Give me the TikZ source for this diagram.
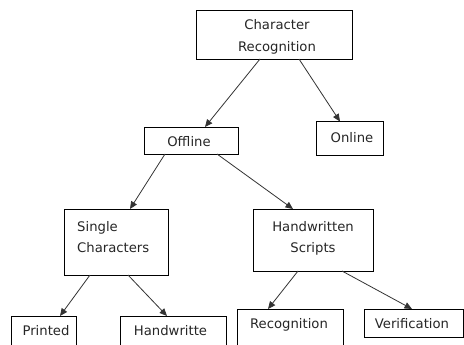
\documentclass[tikz,border=0pt]{standalone}
\usepackage{fontspec}
\setmainfont{DejaVu Sans}
\usetikzlibrary{arrows.meta,calc}

\tikzset{
  box/.style={draw=black, line width=0.8pt, anchor=north west,
              inner sep=0pt, outer sep=0pt},
  lbl/.style={anchor=base, inner sep=0pt, font=\fontsize{13.2}{15}\selectfont,
              text=black!85},
  arr/.style={draw=black!80, line width=0.8pt,
              -{Triangle[length=7.5pt,width=6.5pt]}},
}

\begin{document}
\begin{tikzpicture}[x=1pt,y=-1pt]
  \clip (0,0) rectangle (464,345);
  \fill[white] (0,0) rectangle (464,345);

  % boxes
  \node[box, minimum width=156, minimum height=49] (cr)  at (196,10) {};
  \node[box, minimum width=94,  minimum height=27] (off) at (144,127) {};
  \node[box, minimum width=67,  minimum height=33.5] (on) at (316,121.5) {};
  \node[box, minimum width=104, minimum height=66] (sc)  at (64,209) {};
  \node[box, minimum width=120, minimum height=62] (hs)  at (253,209) {};
  \node[box, minimum width=65,  minimum height=50] (pr)  at (11,316) {};
  \node[box, minimum width=106, minimum height=50] (hw)  at (120,316) {};
  \node[box, minimum width=106, minimum height=50] (rec) at (237,309) {};
  \node[box, minimum width=99,  minimum height=28] (ver) at (364,309) {};

  % labels
  \node[lbl] (crA) at (277,30) {Character};
  \node[lbl] (crB) at (277,52) {Recognition};
  \node[lbl] (offA) at (189,146.5) {Offline};
  \node[lbl] (onA) at (352,142.5) {Online};
  \node[lbl, anchor=base west] (scA) at (77,231) {Single};
  \node[lbl, anchor=base west] (scB) at (77,252.5) {Characters};
  \node[lbl] (hsA) at (313,231) {Handwritten};
  \node[lbl] (hsB) at (313,252.5) {Scripts};
  \node[lbl] (prA) at (46,335.5) {Printed};
  \node[lbl] (hwA) at (170.5,335.5) {Handwritte};
  \node[lbl] (recA) at (289,328) {Recognition};
  \node[lbl] (verA) at (412,328) {Verification};

  % connectors
  \draw[arr] ($(cr.south west)+(64,0)$)  -- ($(off.north west)+(61,0)$);
  \draw[arr] ($(cr.south west)+(103,0)$) -- ($(on.north west)+(24,0)$);
  \draw[arr] ($(off.south west)+(21,0)$) -- ($(sc.north west)+(66,0)$);
  \draw[arr] ($(off.south west)+(73,0)$) -- ($(hs.north west)+(40,0)$);
  \draw[arr] ($(sc.south west)+(26,0)$)  -- ($(pr.north west)+(49,0)$);
  \draw[arr] ($(sc.south west)+(64,0)$)  -- ($(hw.north west)+(47,0)$);
  \draw[arr] ($(hs.south west)+(45,0)$)  -- ($(rec.north west)+(31,0)$);
  \draw[arr] ($(hs.south west)+(89,0)$)  -- ($(ver.north west)+(48,0)$);
\end{tikzpicture}
\end{document}
